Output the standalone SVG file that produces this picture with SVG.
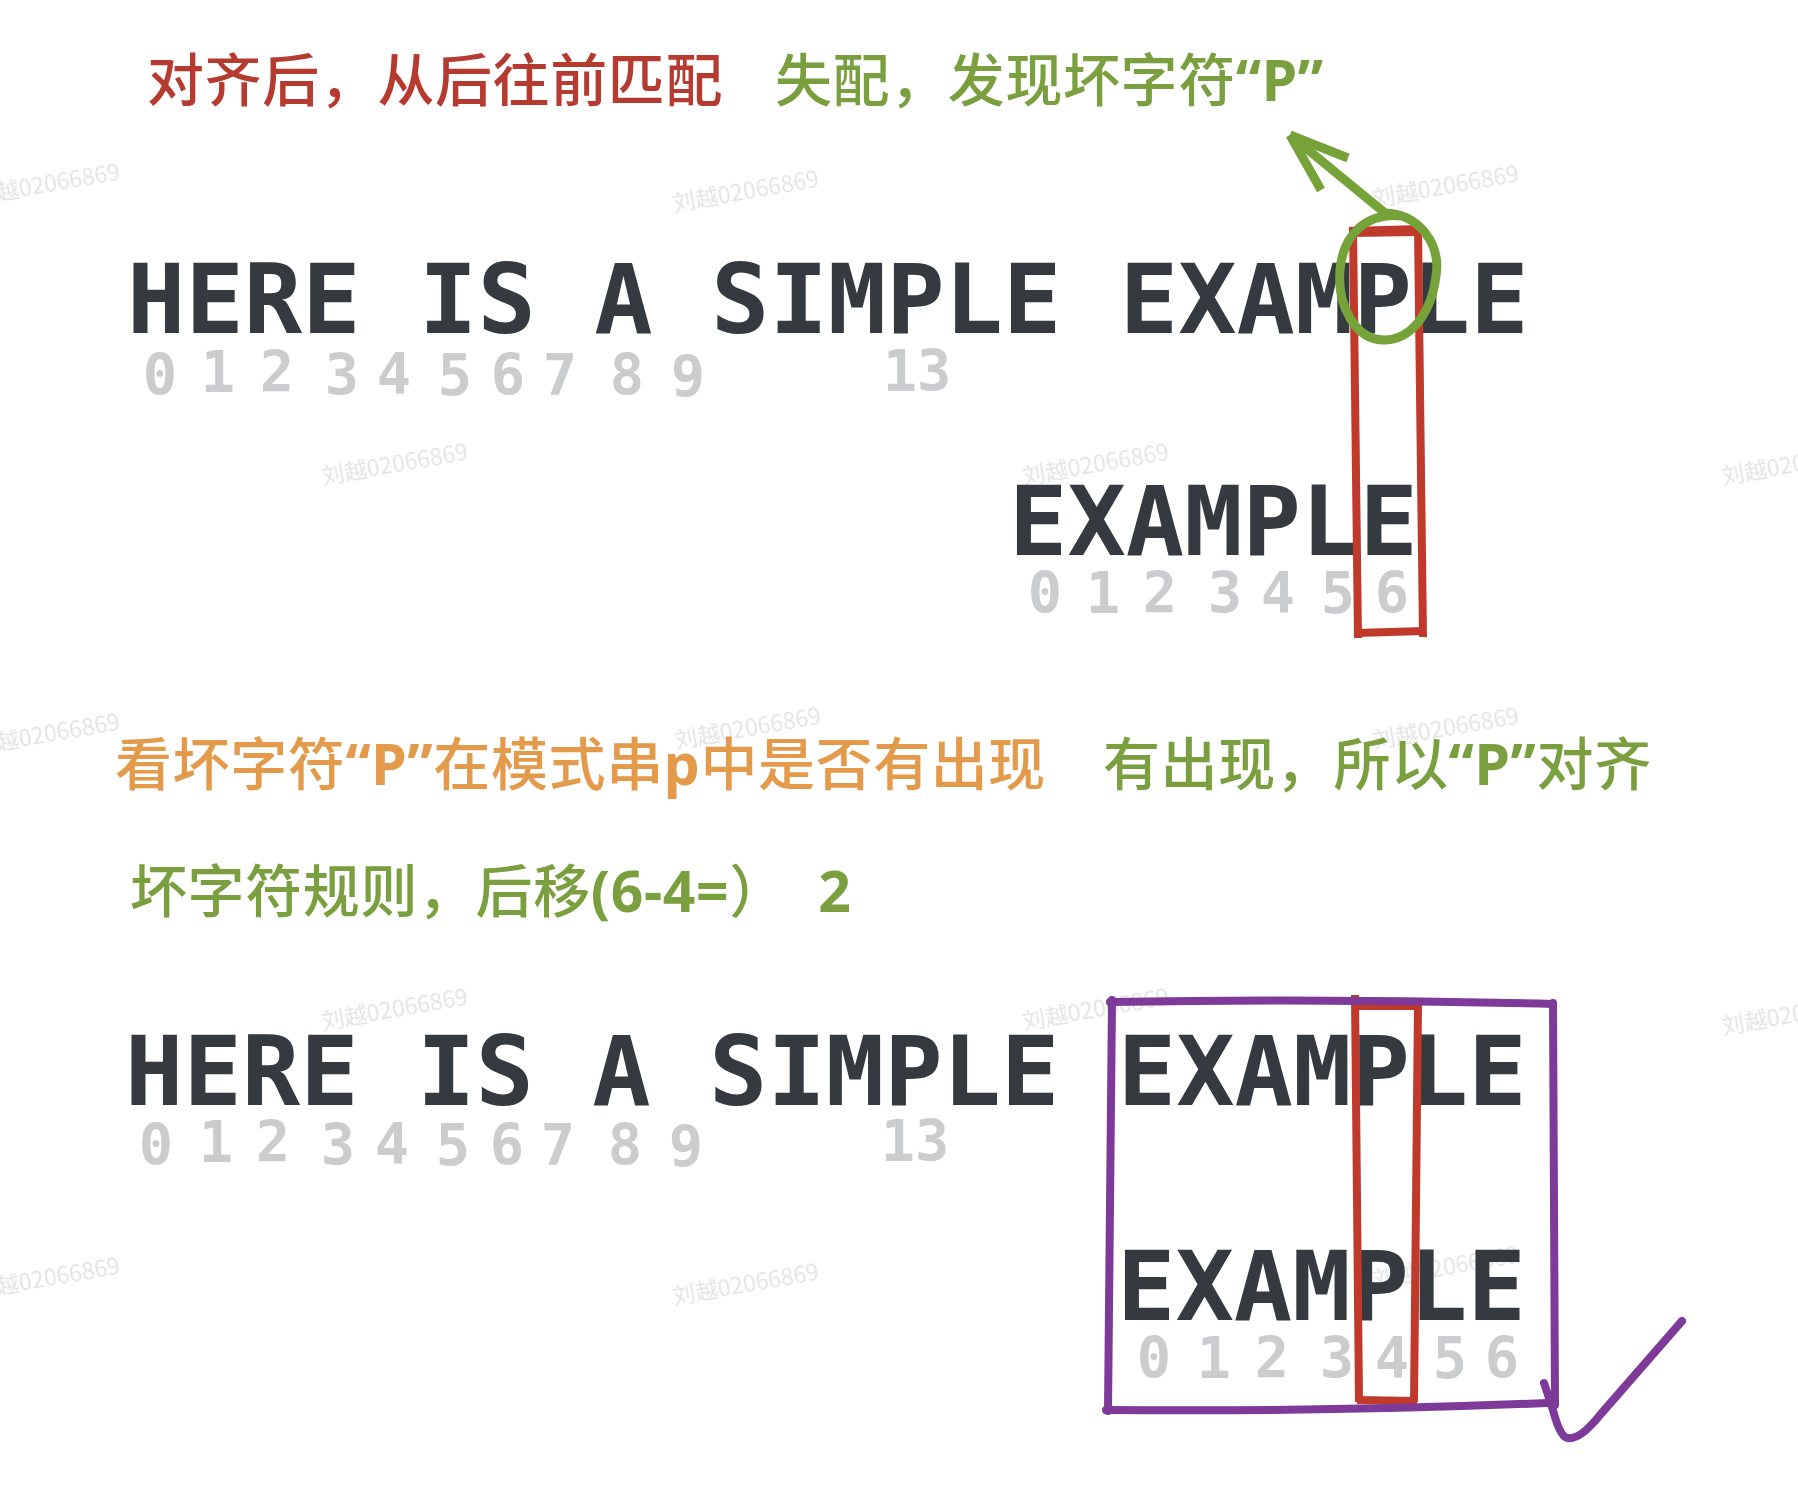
<svg xmlns="http://www.w3.org/2000/svg" width="1798" height="1504" viewBox="0 0 1798 1504">
<style>
.wm{font-family:"Noto Sans CJK SC",sans-serif;font-size:23px;fill:#e6e6e6}
.cn{font-family:"Noto Sans","Noto Sans CJK SC",sans-serif;font-size:57px;font-weight:500;letter-spacing:0.6px}
.lat{font-weight:700}
.red{fill:#b53a2f}
.grn{fill:#7a9f3e}
.org{fill:#e39a4b}
.mono{font-family:"DejaVu Sans Mono",monospace;font-size:97px;font-weight:700;fill:#343a40}
.dig{font-family:"DejaVu Sans Mono",monospace;font-size:57px;font-weight:700;fill:#cbccce;text-anchor:middle}
.rmark{fill:none;stroke:#c0392b;stroke-width:8;stroke-linecap:butt;stroke-linejoin:round}
.pmark{fill:none;stroke:#7d3a98;stroke-width:8;stroke-linecap:round;stroke-linejoin:round}
.gmark{fill:none;stroke:#76a23a;stroke-width:9;stroke-linecap:butt;stroke-linejoin:round}
</style>
<rect width="1798" height="1504" fill="#ffffff"/>
<g id="watermarks">
<text class="wm" transform="translate(-25,205) rotate(-10)">刘越02066869</text>
<text class="wm" transform="translate(674,212) rotate(-10)">刘越02066869</text>
<text class="wm" transform="translate(1374,207) rotate(-10)">刘越02066869</text>
<text class="wm" transform="translate(323,485) rotate(-10)">刘越02066869</text>
<text class="wm" transform="translate(1024,485) rotate(-10)">刘越02066869</text>
<text class="wm" transform="translate(1723,485) rotate(-10)">刘越02066869</text>
<text class="wm" transform="translate(-25,755) rotate(-10)">刘越02066869</text>
<text class="wm" transform="translate(676,749) rotate(-10)">刘越02066869</text>
<text class="wm" transform="translate(1374,749) rotate(-10)">刘越02066869</text>
<text class="wm" transform="translate(323,1030) rotate(-10)">刘越02066869</text>
<text class="wm" transform="translate(1024,1030) rotate(-10)">刘越02066869</text>
<text class="wm" transform="translate(1723,1035) rotate(-10)">刘越02066869</text>
<text class="wm" transform="translate(-25,1299) rotate(-10)">刘越02066869</text>
<text class="wm" transform="translate(674,1305) rotate(-10)">刘越02066869</text>
<text class="wm" transform="translate(1374,1288) rotate(-10)">刘越02066869</text>
</g>
<g id="title-align"><text class="cn red" x="147" y="101">对齐后，从后往前匹配</text></g>
<g id="title-mismatch"><text class="cn grn" x="775" y="101">失配，发现坏字符<tspan class="lat">“P”</tspan></text></g>
<g id="text-row1">
<text class="mono" x="127" y="333">HERE IS A SIMPLE EXAMPLE</text>
<text class="dig" x="160" y="395">0</text><text class="dig" x="218" y="392">1</text><text class="dig" x="277" y="392">2</text><text class="dig" x="342" y="395">3</text><text class="dig" x="394" y="394">4</text><text class="dig" x="455" y="395">5</text><text class="dig" x="508" y="395">6</text><text class="dig" x="560" y="395">7</text><text class="dig" x="627" y="395">8</text><text class="dig" x="688" y="397">9</text><text class="dig" x="917" y="391">13</text>
</g>
<g id="pattern-row1">
<text class="mono" x="1009" y="555">EXAMPLE</text>
<text class="dig" x="1045" y="613">0</text><text class="dig" x="1103" y="613">1</text><text class="dig" x="1160" y="613">2</text><text class="dig" x="1225" y="613">3</text><text class="dig" x="1278" y="613">4</text><text class="dig" x="1338" y="613">5</text><text class="dig" x="1392" y="613">6</text>
</g>
<g id="note-check"><text class="cn org" x="115" y="785">看坏字符<tspan class="lat">“P”</tspan>在模式串<tspan class="lat">p</tspan>中是否有出现</text></g>
<g id="note-found"><text class="cn grn" x="1103" y="785">有出现，所以<tspan class="lat">“P”</tspan>对齐</text></g>
<g id="note-rule"><text class="cn grn" x="130" y="912">坏字符规则，后移<tspan class="lat">(6-4=</tspan>） <tspan class="lat" dx="16">2</tspan></text></g>
<g id="text-row2">
<text class="mono" x="125" y="1105">HERE IS A SIMPLE EXAMPLE</text>
<text class="dig" x="156" y="1165">0</text><text class="dig" x="216" y="1162">1</text><text class="dig" x="273" y="1162">2</text><text class="dig" x="338" y="1165">3</text><text class="dig" x="392" y="1164">4</text><text class="dig" x="453" y="1165">5</text><text class="dig" x="507" y="1165">6</text><text class="dig" x="558" y="1165">7</text><text class="dig" x="625" y="1165">8</text><text class="dig" x="686" y="1167">9</text><text class="dig" x="915" y="1161">13</text>
</g>
<g id="pattern-row2">
<text class="mono" x="1117" y="1320">EXAMPLE</text>
<text class="dig" x="1154" y="1378">0</text><text class="dig" x="1214" y="1378">1</text><text class="dig" x="1272" y="1378">2</text><text class="dig" x="1337" y="1378">3</text><text class="dig" x="1392" y="1378">4</text><text class="dig" x="1450" y="1378">5</text><text class="dig" x="1502" y="1378">6</text>
</g>
<g id="mark-mismatch">
<path class="rmark" d="M1349,231 L1420,229"/>
<path class="rmark" d="M1351,233 L1418,232" stroke-width="5"/>
<path class="rmark" d="M1353,227 L1358,638"/>
<path class="rmark" d="M1418,228 L1423,637"/>
<path class="rmark" d="M1356,633 L1424,631"/>
</g>
<g id="mark-bad-char">
<path class="gmark" d="M1385,213 C1420,214 1441,245 1436,276 C1431,315 1410,340 1384,340 C1355,340 1337,305 1340,270 C1343,235 1366,212 1402,216"/>
</g>
<g id="mark-aligned">
<path class="rmark" d="M1352,1006 L1421,1006"/>
<path class="rmark" d="M1355,995 L1359,1402"/>
<path class="rmark" d="M1418,1004 L1414,1402"/>
<path class="rmark" d="M1357,1400 L1417,1401"/>
</g>
<g id="mark-window">
<path class="pmark" d="M1110,1002 Q1330,998 1553,1004"/>
<path class="pmark" d="M1112,1000 L1108,1411"/>
<path class="pmark" d="M1553,1003 L1555,1405"/>
<path class="pmark" d="M1106,1410 Q1330,1412 1547,1403"/>
</g>
<g id="mark-ok">
<path class="pmark" d="M1544,1383 L1553,1410 Q1560,1438 1568,1438 Q1580,1440 1600,1415 L1682,1321"/>
</g>
<g id="connectors">
<path class="gmark" d="M1385,213 L1290,135"/>
<path class="gmark" d="M1290,135 L1348,158"/>
<path class="gmark" d="M1290,135 L1321,190"/>
</g>
</svg>
